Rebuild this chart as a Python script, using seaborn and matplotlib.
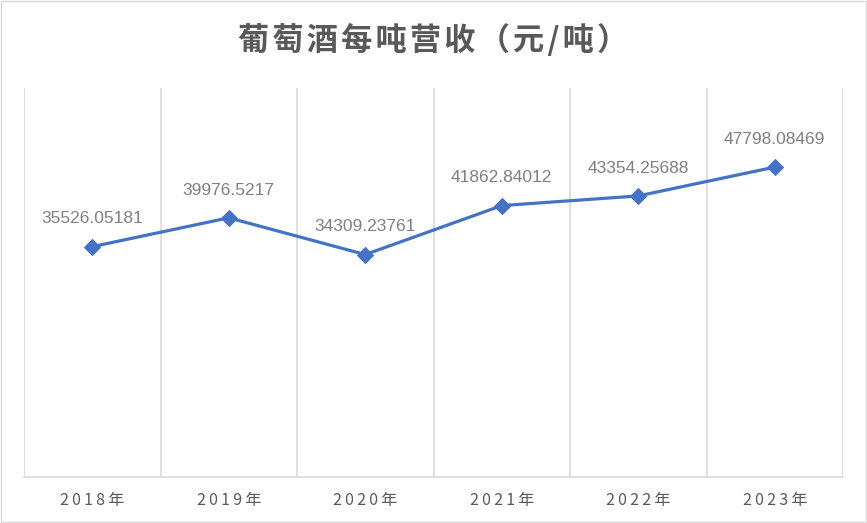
import matplotlib
matplotlib.use("Agg")
import matplotlib.pyplot as plt
import seaborn as sns
import pandas as pd
import numpy as np

years = ["2018年", "2019年", "2020年", "2021年", "2022年", "2023年"]
revenue = [35526.05181, 39976.5217, 34309.23761, 41862.84012, 43354.25688, 47798.08469]
value_labels = ["35526.05181", "39976.5217", "34309.23761", "41862.84012", "43354.25688", "47798.08469"]
title = "葡萄酒每吨营收（元/吨）"

sns.set_theme(style="white")
plt.rcParams["font.family"] = ["Noto Sans CJK SC", "DejaVu Sans"]

df = pd.DataFrame({"idx": np.arange(len(years)), "revenue": revenue})

fig = plt.figure(figsize=(8.67, 5.23), dpi=100)
ax = fig.add_axes([24 / 867, 1 - 477 / 523, (843 - 24) / 867, (477 - 88) / 523])

sns.lineplot(data=df, x="idx", y="revenue", ax=ax, color="#4472C4", linewidth=2.3,
             marker="D", markersize=8, markeredgecolor="#4472C4")

for i, (v, lab) in enumerate(zip(revenue, value_labels)):
    ax.annotate(lab, (i, v), xytext=(0, 20), textcoords="offset points",
                ha="center", va="center", fontsize=12.5, color="#808080",
                family=["Liberation Sans", "DejaVu Sans"])

# spaced-out tick labels like the original
spaced = ["\u2009".join(y) for y in years]

ax.set_xlim(-0.5, len(years) - 0.5)
ax.set_ylim(0, 60000)
ax.set_xticks(np.arange(len(years)))
ax.set_xticklabels(spaced, fontsize=11.5, color="#595959")
ax.set_xticks(np.arange(len(years) + 1) - 0.5, minor=True)
ax.tick_params(axis="x", which="major", length=0, pad=11)
ax.tick_params(axis="x", which="minor", length=0)
ax.set_yticks([])
ax.grid(False)
ax.grid(axis="x", which="minor", color="#d9d9d9", linewidth=1.2)
ax.set_xlabel("")
ax.set_ylabel("")
for s in ["top", "right", "left"]:
    ax.spines[s].set_visible(False)
ax.spines["bottom"].set_color("#d9d9d9")
ax.spines["bottom"].set_linewidth(1.2)

fig.text(0.5, 1 - 40 / 523, "\u200a".join(title), ha="center", va="center",
         fontsize=22.5, fontweight="bold", color="#595959")

fig.patches.append(plt.Rectangle((0.001, 0.001), 0.998, 0.998, transform=fig.transFigure,
                                 fill=False, edgecolor="#d9d9d9", linewidth=1))

fig.savefig("out.png", dpi=100)
